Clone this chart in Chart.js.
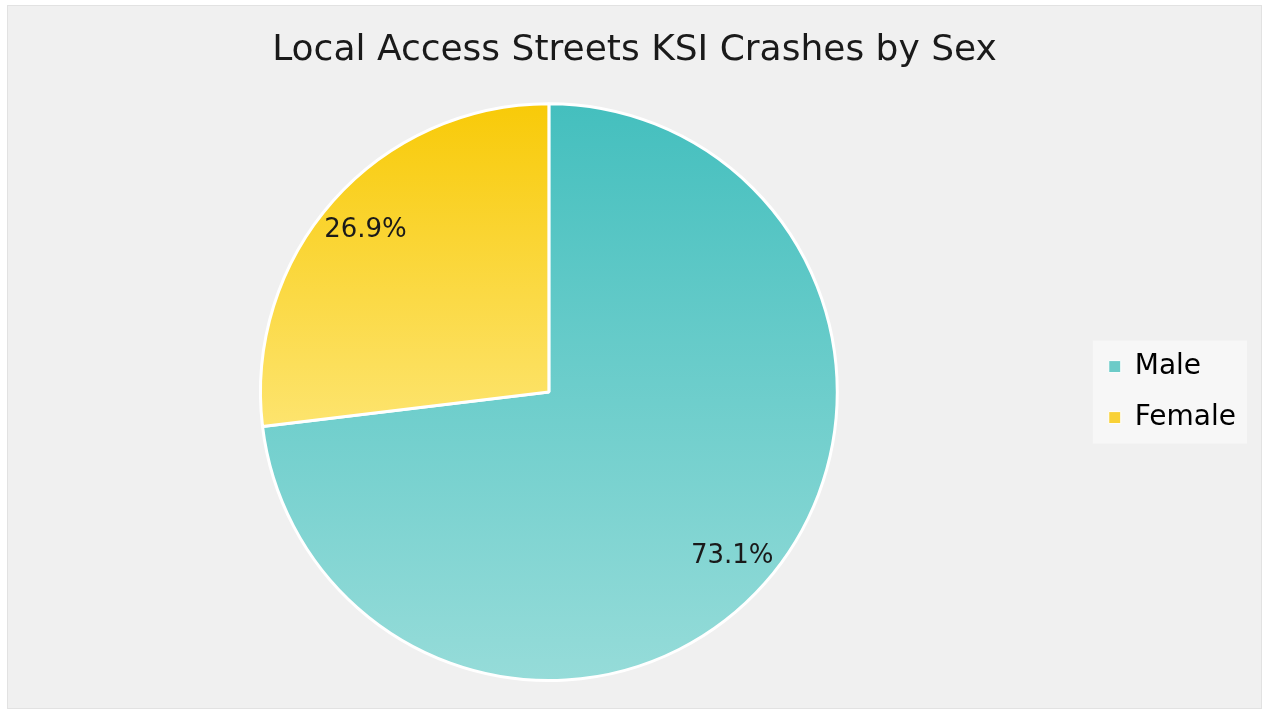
<!DOCTYPE html>
<html>
<head>
<meta charset="utf-8">
<script src="https://cdn.jsdelivr.net/npm/chart.js@4.4.1/dist/chart.umd.min.js"></script>
<style>
  html, body { margin: 0; padding: 0; background: #ffffff; }
  #wrap {
    position: absolute; left: 7px; top: 5px;
    width: 1253px; height: 702px;
    background: #f0f0f0; border: 1px solid #e2e2e2;
  }
</style>
</head>
<body>
<div id="wrap"><canvas id="myChart" width="1253" height="702"></canvas></div>
<script>
const titleText = 'Local Access Streets KSI Crashes by Sex';
const labels = ['Male', 'Female'];
const shares = [73.1, 26.9];
const legendColors = ['#6ccbc8', '#f9d136'];

// slice labels drawn inside the pie
const sliceLabels = {
  id: 'sliceLabels',
  afterDatasetsDraw(chart) {
    const ctx = chart.ctx;
    const meta = chart.getDatasetMeta(0);
    ctx.save();
    ctx.font = '26px "DejaVu Sans"';
    ctx.fillStyle = '#1a1a1a';
    ctx.textAlign = 'center';
    ctx.textBaseline = 'middle';
    meta.data.forEach((arc, i) => {
      const p = arc.getProps(['x', 'y', 'startAngle', 'endAngle', 'outerRadius'], true);
      const mid = (p.startAngle + p.endAngle) / 2;
      const r = p.outerRadius * 0.85;
      ctx.fillText(shares[i].toFixed(1) + '%', p.x + Math.cos(mid) * r, p.y + Math.sin(mid) * r + 1);
    });
    ctx.restore();
  }
};

// legend centred on the pie, title centred on the page, light panel behind the legend
const legendPanel = {
  id: 'legendPanel',
  afterLayout(chart) {
    const lg = chart.legend;
    lg.top = chart.chartArea.top;
    lg.bottom = chart.chartArea.bottom;
    chart.titleBlock.left = 0;
    chart.titleBlock.right = chart.width;
  },
  beforeDraw(chart) {
    const boxes = chart.legend.legendHitBoxes;
    if (!boxes || !boxes.length) return;
    const ctx = chart.ctx;
    let left = Infinity, right = -Infinity;
    boxes.forEach(b => { left = Math.min(left, b.left); right = Math.max(right, b.left + b.width); });
    const top = boxes[0].top;
    const bottom = boxes[boxes.length - 1].top + boxes[boxes.length - 1].height;
    ctx.save();
    ctx.fillStyle = '#f7f7f7';
    ctx.fillRect(left - 16, top - 12, right - left + 27, bottom - top + 24);
    ctx.restore();
  }
};

function sliceGradient(context) {
  const chart = context.chart;
  const area = chart.chartArea;
  if (!area) return legendColors[context.dataIndex];
  const g = chart.ctx;
  if (context.dataIndex === 0) {
    const grad = g.createLinearGradient(0, area.top, 0, area.bottom);
    grad.addColorStop(0, '#44bfbe');
    grad.addColorStop(1, '#96dcd9');
    return grad;
  }
  const grad = g.createLinearGradient(0, area.top, 0, area.top + (area.bottom - area.top) * 0.56);
  grad.addColorStop(0, '#f8ca08');
  grad.addColorStop(1, '#fde46e');
  return grad;
}

const data = {
  labels: labels,
  datasets: [{
    data: shares,
    backgroundColor: sliceGradient,
    borderColor: '#ffffff',
    borderWidth: 3
  }]
};

const config = {
  type: 'pie',
  data: data,
  options: {
    responsive: false,
    animation: false,
    layout: { padding: { left: 4, right: 15, bottom: 26 } },
    plugins: {
      title: {
        display: true,
        text: titleText,
        color: '#1a1a1a',
        font: { family: '"DejaVu Sans"', size: 36, weight: 'normal' },
        padding: { top: 23, bottom: 30 }
      },
      legend: {
        position: 'right',
        labels: {
          color: '#1a1a1a',
          font: { family: '"DejaVu Sans"', size: 28 },
          boxWidth: 12,
          boxHeight: 12,
          padding: 23,
          generateLabels(chart) {
            return labels.map((l, i) => ({
              text: l,
              fillStyle: legendColors[i],
              strokeStyle: '#ffffff',
              lineWidth: 1,
              index: i
            }));
          }
        }
      },
      tooltip: { enabled: false }
    }
  },
  plugins: [legendPanel, sliceLabels]
};

var myChart;

window.addEventListener('load', _ => {
  var ctx = document.getElementById('myChart').getContext('2d');
  myChart = new Chart(ctx, config);
});
</script>
</body>
</html>
